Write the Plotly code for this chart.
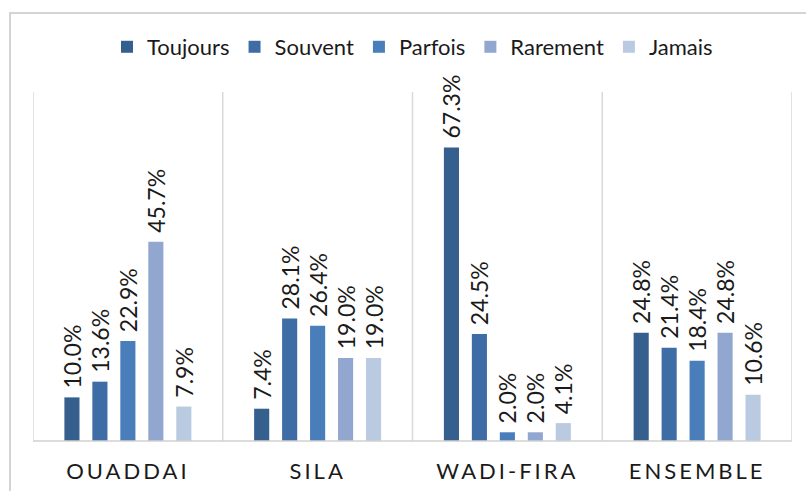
import plotly.graph_objects as go

categories = ["OUADDAI", "SILA", "WADI-FIRA", "ENSEMBLE"]
series_names = ["Toujours", "Souvent", "Parfois", "Rarement", "Jamais"]
toujours = [10.0, 7.4, 67.3, 24.8]
souvent = [13.6, 28.1, 24.5, 21.4]
parfois = [22.9, 26.4, 2.0, 18.4]
rarement = [45.7, 19.0, 2.0, 24.8]
jamais = [7.9, 19.0, 4.1, 10.6]
colors = ["#355f8d", "#3e6da6", "#4a7ebb", "#91a7d0", "#b9cae1"]

values = [toujours, souvent, parfois, rarement, jamais]

fig = go.Figure()
for name, vals, col in zip(series_names, values, colors):
    fig.add_trace(go.Bar(
        name=name, x=categories, y=vals, marker_color=col,
        marker_line_width=0,
        text=[f"\u00a0{v:.1f}%" for v in vals], textposition="outside",
        textangle=-90, cliponaxis=False,
        textfont=dict(family="Lato", size=23, color="#1a1a1a"),
    ))

shapes = []
for i in range(len(categories) + 1):
    shapes.append(dict(type="line", xref="x", yref="paper",
                       x0=i - 0.5, x1=i - 0.5, y0=0, y1=1,
                       line=dict(color="#d9d9d9", width=1.5)))
shapes.append(dict(type="line", xref="paper", yref="paper", x0=0, x1=1,
                   y0=0, y1=0, line=dict(color="#d0d0d0", width=1.5)))
shapes.append(dict(type="rect", xref="paper", yref="paper",
                   x0=-0.0303, x1=1.05, y0=-0.3, y1=1.2264,
                   line=dict(color="#d4d4d4", width=2)))

fig.update_layout(
    width=806, height=491,
    margin=dict(l=33, r=14, t=92, b=50),
    paper_bgcolor="white", plot_bgcolor="white",
    barmode="group", bargap=0.263, bargroupgap=0.46,
    uniformtext=dict(minsize=23, mode="show"),
    showlegend=True,
    legend=dict(orientation="h", x=0.5, xanchor="center", y=1.129,
                yanchor="middle", font=dict(family="Lato", size=22, color="#1a1a1a"),
                itemwidth=30, tracegroupgap=0),
    xaxis=dict(range=[-0.5, 3.5], showgrid=False, showline=False, ticks="",
               ticklabelstandoff=15, automargin=False,
               tickfont=dict(family="Lato", size=22, color="#1a1a1a")),
    yaxis=dict(range=[0, 80], visible=False),
    shapes=shapes,
    font=dict(family="Lato"),
)

fig.write_html("out.html", config={"displayModeBar": False}, post_script="""
var st=document.createElement('style');
st.innerHTML='body{margin:0;} .xtick text{letter-spacing:3px;}';
document.head.appendChild(st);
""")
